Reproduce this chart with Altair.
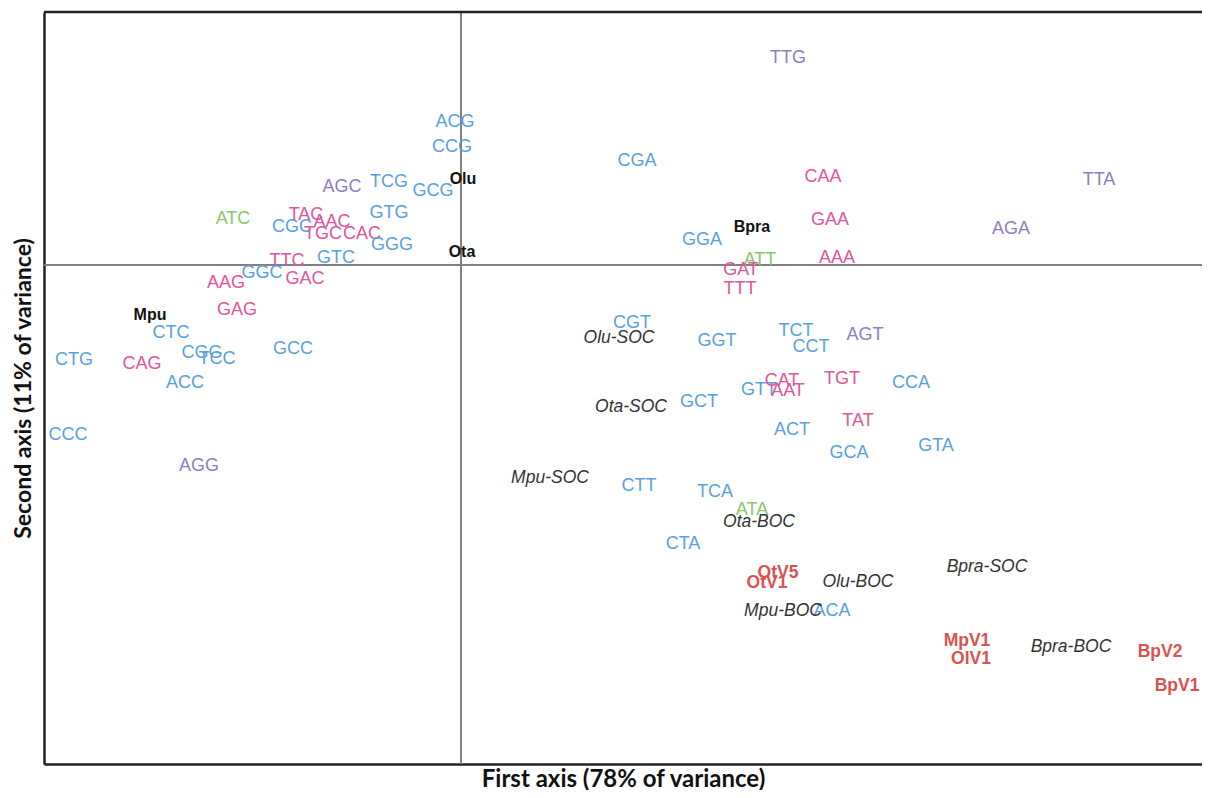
import altair as alt
import pandas as pd

# ---- codons (first axis, second axis) ----
codon_labels = ["ACG", "CCG", "TCG", "GCG", "AGC", "GTG", "ATC", "TAC", "CGC", "AAC",
                "TGC", "CAC", "GGG", "GTC", "TTC", "GGC", "GAC", "AAG", "GAG", "CTC",
                "CGG", "TCC", "GCC", "CTG", "CAG", "ACC", "CCC", "AGG", "TTG", "CGA",
                "CAA", "TTA", "GAA", "AGA", "GGA", "ATT", "AAA", "GAT", "TTT", "CGT",
                "GGT", "TCT", "CCT", "AGT", "GTT", "CAT", "AAT", "TGT", "CCA", "GCT",
                "ACT", "TAT", "GCA", "GTA", "CTT", "TCA", "ATA", "CTA", "ACA"]
codon_x = [-0.006, -0.009, -0.072, -0.028, -0.119, -0.072, -0.228, -0.155, -0.169, -0.129,
           -0.138, -0.099, -0.069, -0.125, -0.174, -0.199, -0.156, -0.235, -0.224, -0.290,
           -0.259, -0.244, -0.168, -0.387, -0.319, -0.276, -0.393, -0.262, 0.327, 0.176,
           0.362, 0.638, 0.369, 0.550, 0.241, 0.299, 0.376, 0.280, 0.279, 0.171,
           0.256, 0.335, 0.350, 0.404, 0.298, 0.321, 0.327, 0.381, 0.450, 0.238,
           0.331, 0.397, 0.388, 0.475, 0.178, 0.254, 0.291, 0.222, 0.371]
codon_y = [0.145, 0.120, 0.085, 0.076, 0.080, 0.054, 0.048, 0.052, 0.040, 0.045,
           0.033, 0.033, 0.022, 0.009, 0.006, -0.006, -0.012, -0.016, -0.043, -0.066,
           -0.086, -0.092, -0.082, -0.093, -0.097, -0.116, -0.168, -0.199, 0.209, 0.106,
           0.090, 0.087, 0.047, 0.038, 0.027, 0.007, 0.009, -0.003, -0.022, -0.056,
           -0.074, -0.064, -0.080, -0.068, -0.123, -0.114, -0.124, -0.112, -0.116, -0.135,
           -0.163, -0.154, -0.186, -0.179, -0.219, -0.225, -0.243, -0.277, -0.344]
# degeneracy class: 4 = four-fold, 2 = two-fold, 6 = six-fold (2-fold part), 3 = Ile
codon_class = ["4", "4", "4", "4", "6", "4", "3", "2", "4", "2",
               "2", "2", "4", "4", "2", "4", "2", "2", "2", "4",
               "4", "4", "4", "4", "2", "4", "4", "6", "6", "4",
               "2", "6", "2", "6", "4", "3", "2", "2", "2", "4",
               "4", "4", "4", "6", "4", "2", "2", "2", "4", "4",
               "4", "2", "4", "4", "4", "4", "3", "4", "4"]

# ---- host species ----
species_labels = ["Olu", "Ota", "Bpra", "Mpu"]
species_x = [0.002, 0.001, 0.291, -0.311]
species_y = [0.088, 0.015, 0.040, -0.048]

# ---- gene sets (SOC / BOC) ----
geneset_labels = ["Olu-SOC", "Ota-SOC", "Mpu-SOC", "Ota-BOC",
                  "Bpra-SOC", "Olu-BOC", "Mpu-BOC", "Bpra-BOC"]
geneset_x = [0.158, 0.170, 0.089, 0.298, 0.526, 0.397, 0.322, 0.610]
geneset_y = [-0.071, -0.140, -0.211, -0.255, -0.300, -0.315, -0.344, -0.380]

# ---- viruses ----
virus_labels = ["OtV5", "OtV1", "MpV1", "OlV1", "BpV2", "BpV1"]
virus_x = [0.317, 0.306, 0.506, 0.510, 0.699, 0.716]
virus_y = [-0.306, -0.316, -0.374, -0.392, -0.385, -0.419]

X_DOMAIN = [-0.417, 0.741]
Y_DOMAIN = [-0.499, 0.253]
W, H = 1158, 752
FONT = "Liberation Sans"

codons = pd.DataFrame({"label": codon_labels, "x": codon_x, "y": codon_y, "cls": codon_class})
species = pd.DataFrame({"label": species_labels, "x": species_x, "y": species_y})
genesets = pd.DataFrame({"label": geneset_labels, "x": geneset_x, "y": geneset_y})
viruses = pd.DataFrame({"label": virus_labels, "x": virus_x, "y": virus_y})

xs = alt.Scale(domain=X_DOMAIN, nice=False, zero=False)
ys = alt.Scale(domain=Y_DOMAIN, nice=False, zero=False)

X = alt.X("x:Q", scale=xs, title="First axis (78% of variance)",
          axis=alt.Axis(labels=False, ticks=False, grid=False, domainColor="#222",
                        domainWidth=2.5, titleFont="Lato", titleFontSize=24,
                        titleFontWeight="bold", titleColor="#111", titlePadding=3))
Y = alt.Y("y:Q", scale=ys, title="Second axis (11% of variance)",
          axis=alt.Axis(labels=False, ticks=False, grid=False, domainColor="#222",
                        domainWidth=2.5, titleFont="Lato", titleFontSize=23,
                        titleFontWeight="bold", titleColor="#111", titlePadding=9))

base_zero = pd.DataFrame({"x": [0.0], "y": [0.0]})

vline = alt.Chart(base_zero).mark_rule(color="#808080", strokeWidth=2).encode(x=X)
hline = alt.Chart(base_zero).mark_rule(color="#808080", strokeWidth=2).encode(y=Y)
topline = alt.Chart(base_zero).mark_rule(color="#222", strokeWidth=2.5).encode(
    x=alt.value(0), x2=alt.value(W), y=alt.value(0))

codon_layer = alt.Chart(codons).mark_text(
    font=FONT, fontSize=18, align="center", baseline="middle", dy=1.5
).encode(
    x=X, y=Y, text="label:N",
    color=alt.Color("cls:N", legend=None,
                    scale=alt.Scale(domain=["4", "2", "6", "3"],
                                    range=["#5A9FDD", "#E0559B", "#8F7CC2", "#8CC46A"])),
)

species_layer = alt.Chart(species).mark_text(
    font=FONT, fontSize=16, fontWeight="bold", color="#111",
    align="center", baseline="middle", dy=1.5
).encode(x=X, y=Y, text="label:N")

geneset_layer = alt.Chart(genesets).mark_text(
    font=FONT, fontSize=17.5, fontStyle="italic", color="#333",
    align="center", baseline="middle", dy=1.5
).encode(x=X, y=Y, text="label:N")

virus_layer = alt.Chart(viruses).mark_text(
    font=FONT, fontSize=17.5, fontWeight="bold", color="#D9534F",
    align="center", baseline="middle", dy=1.5
).encode(x=X, y=Y, text="label:N")

chart = alt.layer(
    vline, hline, topline, codon_layer, species_layer, geneset_layer, virus_layer
).properties(
    width=W, height=H,
    autosize=alt.AutoSizeParams(type="none"),
    padding={"left": 36, "top": 4, "right": 0, "bottom": 26},
).configure_view(stroke=None).configure(background="white")

chart.save("out.html", embed_options={"renderer": "svg", "actions": False})
